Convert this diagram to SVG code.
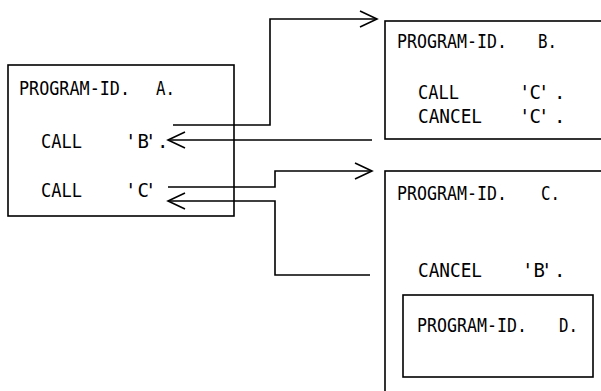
<svg xmlns="http://www.w3.org/2000/svg" width="601" height="391" viewBox="0 0 601 391">
<style>
.box{fill:#fff;stroke:#000;stroke-width:1.6}
.t{font-family:"DejaVu Sans Mono","Liberation Mono",monospace;font-size:19px;fill:#000}
.c{fill:none;stroke:#000;stroke-width:1.6}
</style>
<defs>
<marker id="arr" markerUnits="userSpaceOnUse" markerWidth="40" markerHeight="40" viewBox="-20 -20 40 40" refX="0" refY="0" orient="auto" overflow="visible">
<path d="M-17,-8 L0,0 L-17,8" fill="none" stroke="#000" stroke-width="1.6"/>
</marker>
</defs>
<rect width="601" height="391" fill="#fff"/>
<g id="nodeA">
<rect class="box" x="8" y="65" width="226" height="151"/>
<text class="t" x="19" y="95" textLength="111" lengthAdjust="spacingAndGlyphs">PROGRAM-ID.</text>
<text class="t" x="156" y="95" textLength="19" lengthAdjust="spacingAndGlyphs">A.</text>
<text class="t" x="41" y="148" textLength="41" lengthAdjust="spacingAndGlyphs">CALL</text>
<text class="t" x="125 137.5 145 157" y="148">'B'.</text>
<text class="t" x="41" y="197" textLength="41" lengthAdjust="spacingAndGlyphs">CALL</text>
<text class="t" x="125 137.5 145" y="197">'C'</text>
</g>
<g id="nodeB">
<rect class="box" x="385" y="21" width="230" height="118"/>
<text class="t" x="397" y="48" textLength="110" lengthAdjust="spacingAndGlyphs">PROGRAM-ID.</text>
<text class="t" x="538" y="48" textLength="19" lengthAdjust="spacingAndGlyphs">B.</text>
<text class="t" x="418" y="99" textLength="41" lengthAdjust="spacingAndGlyphs">CALL</text>
<text class="t" x="519 529.5 538 554" y="99">'C'.</text>
<text class="t" x="418" y="123" textLength="64" lengthAdjust="spacingAndGlyphs">CANCEL</text>
<text class="t" x="519 529.5 538 554" y="123">'C'.</text>
</g>
<g id="nodeC">
<rect class="box" x="385" y="171" width="230" height="240"/>
<text class="t" x="397" y="200" textLength="110" lengthAdjust="spacingAndGlyphs">PROGRAM-ID.</text>
<text class="t" x="541" y="200" textLength="19" lengthAdjust="spacingAndGlyphs">C.</text>
<text class="t" x="418" y="277" textLength="64" lengthAdjust="spacingAndGlyphs">CANCEL</text>
<text class="t" x="522 533.5 541 554" y="277">'B'.</text>
</g>
<g id="nodeD">
<rect class="box" x="403" y="295" width="190" height="82"/>
<text class="t" x="417" y="332" textLength="110" lengthAdjust="spacingAndGlyphs">PROGRAM-ID.</text>
<text class="t" x="559" y="332" textLength="19" lengthAdjust="spacingAndGlyphs">D.</text>
</g>
<g id="connectors">
<path class="c" d="M173,125 H270 V19 H377" marker-end="url(#arr)"/>
<path class="c" d="M372,140 H168" marker-end="url(#arr)"/>
<path class="c" d="M168,187 H275 V171 H372" marker-end="url(#arr)"/>
<path class="c" d="M370,275 H275 V201 H168" marker-end="url(#arr)"/>
</g>
</svg>
